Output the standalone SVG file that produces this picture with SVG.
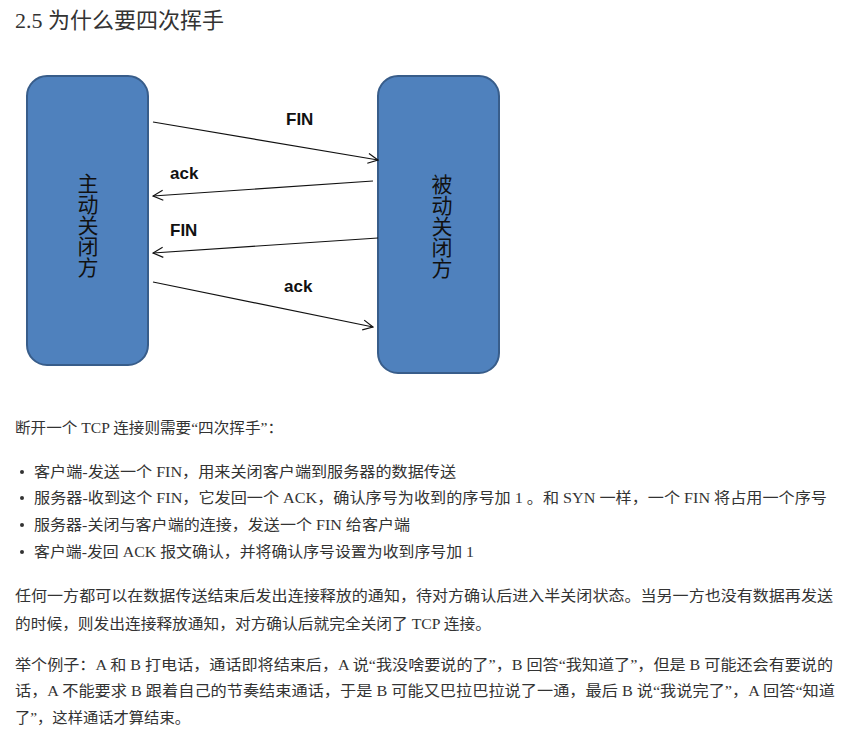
<svg xmlns="http://www.w3.org/2000/svg" width="850" height="742" viewBox="0 0 850 742">
<style>
.title{font-family:"Liberation Serif","Noto Sans CJK SC",serif;font-size:22px;fill:#333}
.body{font-family:"Liberation Serif","Noto Sans CJK SC",serif;font-size:15px;fill:#333}
.box{fill:#4F81BD;stroke:#385D8A;stroke-width:2}
.vt{font-family:"Noto Sans CJK SC",sans-serif;font-size:21px;fill:#111;writing-mode:vertical-rl;text-orientation:upright}
.lbl{font-family:"Liberation Sans","DejaVu Sans",sans-serif;font-size:17px;font-weight:bold;fill:#111}
.conn{stroke:#111;stroke-width:1.2;fill:none;marker-end:url(#arr)}
</style>
<defs>
<marker id="arr" viewBox="0 0 12 12" refX="11" refY="6" markerWidth="12" markerHeight="12" markerUnits="userSpaceOnUse" orient="auto">
<path d="M1,1 L11,6 L1,11" fill="none" stroke="#111" stroke-width="1.2"/>
</marker>
</defs>
<rect width="850" height="742" fill="#fff"/>
<text class="title" x="15" y="28">2.5 为什么要四次挥手</text>

<g id="active">
<rect class="box" x="27" y="76" width="121" height="289" rx="20"/>
<text class="vt" x="88" y="173">主动关闭方</text>
</g>
<g id="passive">
<rect class="box" x="378" y="76" width="121" height="297" rx="20"/>
<text class="vt" x="442" y="174">被动关闭方</text>
</g>

<g id="connectors">
<line class="conn" x1="153" y1="122" x2="378" y2="160"/>
<line class="conn" x1="373" y1="181" x2="153" y2="196"/>
<line class="conn" x1="378" y1="238" x2="153" y2="253"/>
<line class="conn" x1="153" y1="282" x2="373" y2="327"/>
<text class="lbl" x="286" y="125">FIN</text>
<text class="lbl" x="170" y="179">ack</text>
<text class="lbl" x="170" y="236">FIN</text>
<text class="lbl" x="284" y="292">ack</text>
</g>

<g id="text">
<text class="body" x="15" y="433" textLength="268" lengthAdjust="spacingAndGlyphs">断开一个 TCP 连接则需要“四次挥手”：</text>
<circle cx="22" cy="472" r="2" fill="#333"/>
<circle cx="22" cy="498" r="2" fill="#333"/>
<circle cx="22" cy="525" r="2" fill="#333"/>
<circle cx="22" cy="552" r="2" fill="#333"/>
<text class="body" x="34" y="477" textLength="422" lengthAdjust="spacingAndGlyphs">客户端-发送一个 FIN，用来关闭客户端到服务器的数据传送</text>
<text class="body" x="34" y="503" textLength="793" lengthAdjust="spacingAndGlyphs">服务器-收到这个 FIN，它发回一个 ACK，确认序号为收到的序号加 1 。和 SYN 一样，一个 FIN 将占用一个序号</text>
<text class="body" x="34" y="530" textLength="376" lengthAdjust="spacingAndGlyphs">服务器-关闭与客户端的连接，发送一个 FIN 给客户端</text>
<text class="body" x="34" y="557" textLength="440" lengthAdjust="spacingAndGlyphs">客户端-发回 ACK 报文确认，并将确认序号设置为收到序号加 1</text>
<text class="body" x="15" y="601" textLength="818" lengthAdjust="spacingAndGlyphs">任何一方都可以在数据传送结束后发出连接释放的通知，待对方确认后进入半关闭状态。当另一方也没有数据再发送</text>
<text class="body" x="15" y="629" textLength="476" lengthAdjust="spacingAndGlyphs">的时候，则发出连接释放通知，对方确认后就完全关闭了 TCP 连接。</text>
<text class="body" x="15" y="670" textLength="818" lengthAdjust="spacingAndGlyphs">举个例子：A 和 B 打电话，通话即将结束后，A 说“我没啥要说的了”，B 回答“我知道了”，但是 B 可能还会有要说的</text>
<text class="body" x="15" y="696" textLength="820" lengthAdjust="spacingAndGlyphs">话，A 不能要求 B 跟着自己的节奏结束通话，于是 B 可能又巴拉巴拉说了一通，最后 B 说“我说完了”，A 回答“知道</text>
<text class="body" x="15" y="723" textLength="175" lengthAdjust="spacingAndGlyphs">了”，这样通话才算结束。</text>
</g>
</svg>
